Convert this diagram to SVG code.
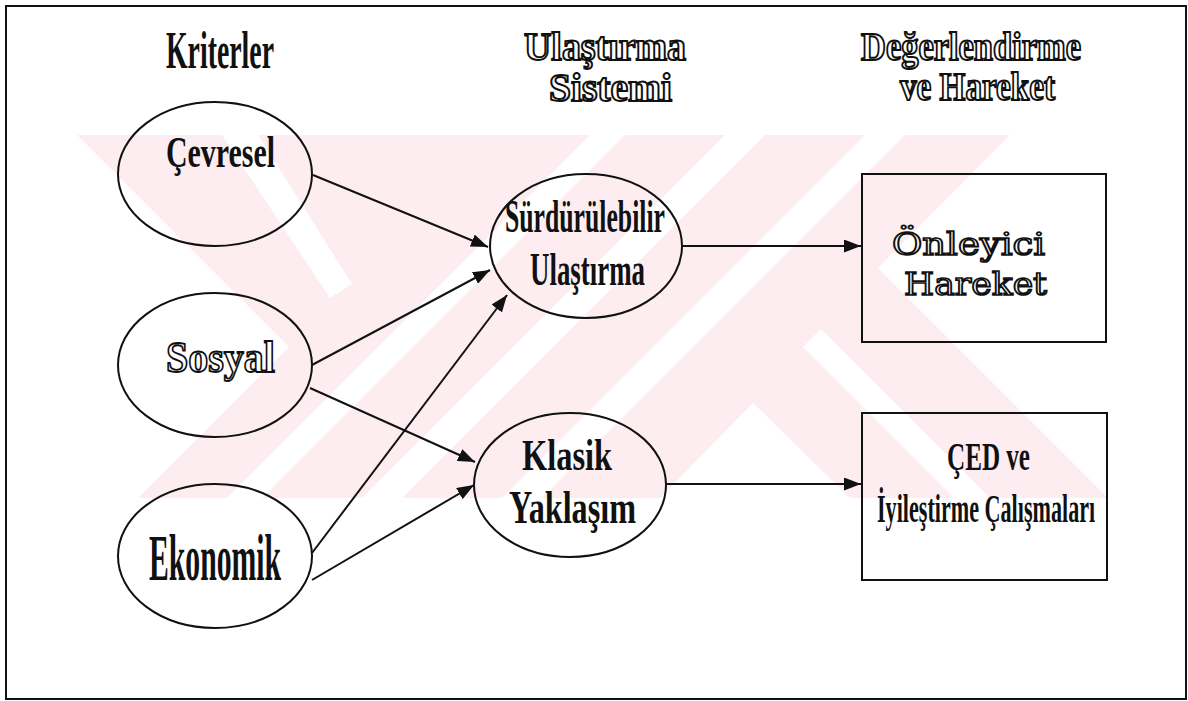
<svg xmlns="http://www.w3.org/2000/svg" width="1188" height="701" viewBox="0 0 1188 701">
<style>
.t{font-family:"Liberation Serif","Times New Roman",serif;font-weight:bold;fill:#111;}
.h{fill:#fff;stroke:#111;stroke-width:2;}
.w{font-family:"DejaVu Serif","Liberation Serif",serif;font-weight:normal;fill:#fff;stroke:#111;stroke-width:1.7;}
.shape{fill:none;stroke:#111;stroke-width:2;}
.conn{fill:none;stroke:#111;stroke-width:2;marker-end:url(#arr);}
</style>
<defs>
<marker id="arr" viewBox="0 0 17 13" refX="17" refY="6.5" markerWidth="17" markerHeight="13" markerUnits="userSpaceOnUse" orient="auto">
<path d="M0,0 L17,6.5 L0,13 Z" fill="#111"/>
</marker>
</defs>
<rect x="0" y="0" width="1188" height="701" fill="#fff"/>
<g id="watermark">
<path d="M77,135 L1010,135 L878,268 L1108,498 L138,498 L289,347 Z" fill="#fdedf0"/>
<g fill="#fff">
<path d="M222,135 L258,135 L352,284 L330,298 Z"/>
<path d="M590,135 L625,135 L262,498 L227,498 Z"/>
<path d="M725,135 L765,135 L402,498 L362,498 Z"/>
<path d="M865,135 L905,135 L542,498 L502,498 Z"/>
<path d="M753,403 L850,498 L660,498 Z"/>
<path d="M803,347 L821,329 L990,498 L954,498 Z"/>
</g>
</g>
<rect id="frame" x="6" y="6" width="1180" height="693" class="shape"/>
<g id="headers">
<text class="t" x="166" y="68" font-size="52" textLength="108" lengthAdjust="spacingAndGlyphs">Kriterler</text>
<text class="t h" x="524" y="60" font-size="40" textLength="162" lengthAdjust="spacingAndGlyphs">Ulaştırma</text>
<text class="t h" x="549" y="101" font-size="40" textLength="123" lengthAdjust="spacingAndGlyphs">Sistemi</text>
<text class="t h" x="861" y="60" font-size="39" textLength="220" lengthAdjust="spacingAndGlyphs">Değerlendirme</text>
<text class="t h" x="900" y="100" font-size="39" textLength="155" lengthAdjust="spacingAndGlyphs">ve Hareket</text>
</g>
<g id="connectors">
<line class="conn" x1="313" y1="175" x2="488" y2="247"/>
<line class="conn" x1="312" y1="365" x2="490" y2="270"/>
<line class="conn" x1="312" y1="553" x2="507" y2="295"/>
<line class="conn" x1="310" y1="388" x2="475" y2="462"/>
<line class="conn" x1="312" y1="580" x2="474" y2="485"/>
<line class="conn" x1="682" y1="246" x2="861" y2="246"/>
<line class="conn" x1="666" y1="484" x2="861" y2="484"/>
</g>
<g id="cevresel">
<ellipse cx="215" cy="174" rx="97" ry="72" class="shape"/>
<text class="t" x="166" y="167" font-size="44" textLength="109" lengthAdjust="spacingAndGlyphs">Çevresel</text>
</g>
<g id="sosyal">
<ellipse cx="215" cy="365" rx="97" ry="72" class="shape"/>
<text class="t h" x="166" y="372" font-size="44" font-weight="normal" style="stroke-width:1.8" textLength="109" lengthAdjust="spacingAndGlyphs">Sosyal</text>
</g>
<g id="ekonomik">
<ellipse cx="215" cy="556" rx="97" ry="72" class="shape"/>
<text class="t" x="149" y="580" font-size="66" textLength="132" lengthAdjust="spacingAndGlyphs">Ekonomik</text>
</g>
<g id="surdurulebilir">
<ellipse cx="586" cy="246" rx="96" ry="72" class="shape"/>
<text class="t" x="505" y="232" font-size="46" textLength="160" lengthAdjust="spacingAndGlyphs">Sürdürülebilir</text>
<text class="t" x="530" y="285" font-size="46" textLength="115" lengthAdjust="spacingAndGlyphs">Ulaştırma</text>
</g>
<g id="klasik">
<ellipse cx="570" cy="485" rx="96" ry="72" class="shape"/>
<text class="t" x="522" y="470" font-size="44" textLength="90" lengthAdjust="spacingAndGlyphs">Klasik</text>
<text class="t" x="509" y="523" font-size="46" textLength="127" lengthAdjust="spacingAndGlyphs">Yaklaşım</text>
</g>
<g id="onleyici">
<rect x="862" y="174" width="244" height="168" class="shape"/>
<text class="w" x="892" y="255" font-size="31" textLength="153" lengthAdjust="spacingAndGlyphs">Önleyici</text>
<text class="w" x="904" y="295" font-size="31" textLength="143" lengthAdjust="spacingAndGlyphs">Hareket</text>
</g>
<g id="ced">
<rect x="862" y="413" width="245" height="167" class="shape"/>
<text class="t" x="947" y="470" font-size="40" textLength="83" lengthAdjust="spacingAndGlyphs">ÇED ve</text>
<text class="t" transform="translate(877,522) scale(0.54,1)" x="0" y="0" font-size="41">İyileştirme Çalışmaları</text>
</g>
</svg>
